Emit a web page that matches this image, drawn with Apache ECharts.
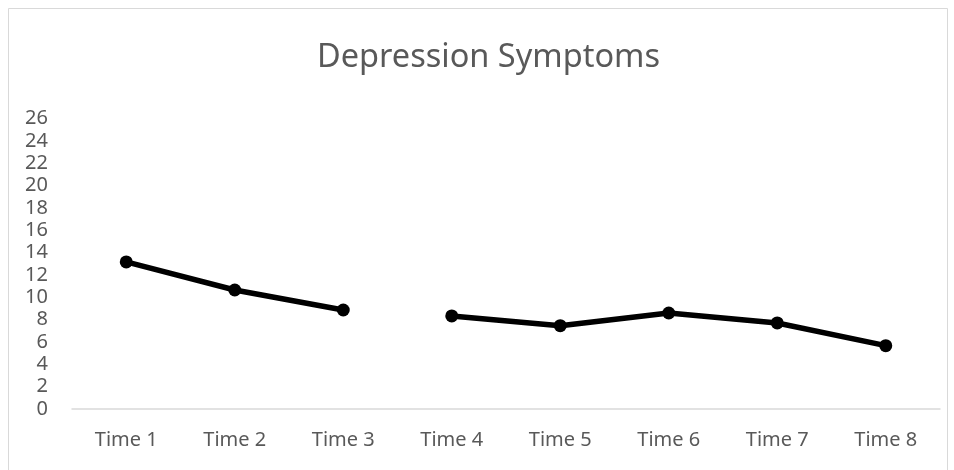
<!DOCTYPE html>
<html>
<head>
<meta charset="utf-8">
<script src="https://cdn.jsdelivr.net/npm/echarts@6/dist/echarts.min.js"></script>
<style>
  html, body { margin: 0; padding: 0; background: #fff; }
  #chart { width: 954px; height: 470px; }
</style>
</head>
<body>
<div id="chart"></div>
<script>
// Measurement occasions along the x axis
const categories = ['Time 1', 'Time 2', 'Time 3', 'Time 4', 'Time 5', 'Time 6', 'Time 7', 'Time 8'];
// Mean symptom scores; the line is broken between Time 3 and Time 4
const firstPhase = [13.16, 10.65, 8.86, null, null, null, null, null];
const secondPhase = [null, null, null, 8.33, 7.46, 8.59, 7.70, 5.67];
// Y axis tick range
const yMin = 0, yMax = 26, yStep = 2;

const chart = echarts.init(document.getElementById('chart'), null, { renderer: 'canvas' });
const textColor = '#595959';
const font = 'Noto Sans';

function lineSeries(data) {
  return {
    type: 'line',
    data: data,
    symbol: 'circle',
    symbolSize: 13,
    connectNulls: false,
    lineStyle: { color: '#000', width: 5.5 },
    itemStyle: { color: '#000' },
    animation: false
  };
}

chart.setOption({
  backgroundColor: '#fff',
  animation: false,
  title: {
    text: 'Depression Symptoms',
    left: 312,
    top: 36,
    textStyle: { fontFamily: font, fontSize: 32.5, fontWeight: 'normal', color: textColor }
  },
  graphic: [{
    type: 'rect',
    shape: { x: 8.5, y: 8.5, width: 939, height: 470 },
    style: { fill: 'none', stroke: '#d9d9d9', lineWidth: 1 },
    silent: true
  }],
  grid: { left: 72, right: 14, top: 118.5, bottom: 61, containLabel: false },
  xAxis: {
    type: 'category',
    data: categories,
    boundaryGap: true,
    axisLine: { lineStyle: { color: '#d9d9d9', width: 1.5 } },
    axisTick: { show: false },
    axisLabel: { fontFamily: font, fontSize: 20, color: textColor, margin: 21 }
  },
  yAxis: {
    type: 'value',
    min: yMin, max: yMax, interval: yStep,
    axisLine: { show: false },
    axisTick: { show: false },
    splitLine: { show: false },
    axisLabel: { fontFamily: font, fontSize: 20, color: textColor, margin: 24 }
  },
  series: [lineSeries(firstPhase), lineSeries(secondPhase)]
});
</script>
</body>
</html>
